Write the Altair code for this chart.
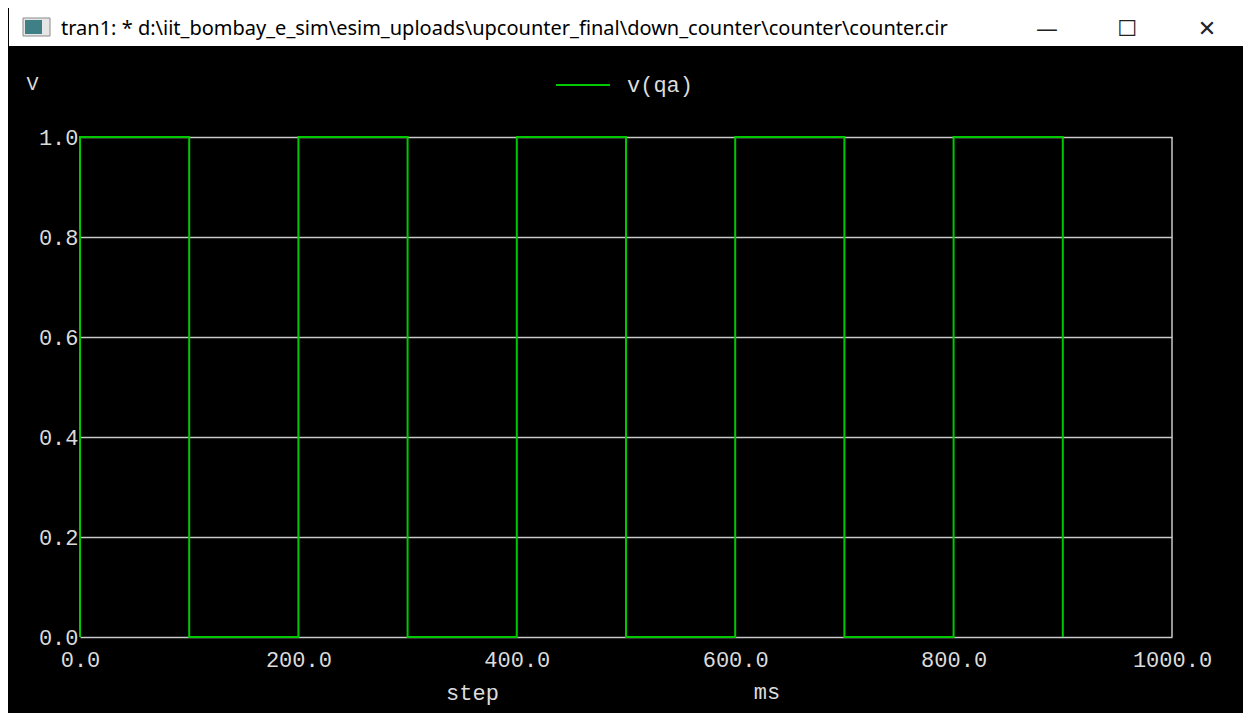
import altair as alt
import pandas as pd

# ---- data (transient of v(qa)) ----
time_ms = [0, 0, 100, 100, 200, 200, 300, 300, 400, 400, 500, 500, 600, 600, 700, 700, 800, 800, 900, 900]
v_qa = [0, 1, 1, 0, 0, 1, 1, 0, 0, 1, 1, 0, 0, 1, 1, 0, 0, 1, 1, 0]
series_name = "v(qa)"
x_ticks = [0, 200, 400, 600, 800, 1000]
y_ticks = [0.0, 0.2, 0.4, 0.6, 0.8, 1.0]
window_title = "tran1: * d:\\iit_bombay_e_sim\\esim_uploads\\upcounter_final\\down_counter\\counter\\counter.cir"
x_title = "step"
x_unit = "ms"
y_title = "V"

df = pd.DataFrame({"t": time_ms, "v": v_qa, "idx": list(range(len(time_ms))),
                   "signal": [series_name] * len(time_ms)})
one = pd.DataFrame({"a": [0]})

MONO = "Liberation Mono"
TXT = "#dcdcdc"
GRID = "#c8c8c8"
GREEN = "#00c800"

line = alt.Chart(df).mark_line(strokeWidth=2).encode(
    x=alt.X("t:Q", scale=alt.Scale(domain=[0, 1000], nice=False),
            axis=alt.Axis(values=x_ticks, format=".1f", grid=False, ticks=False, domain=False,
                          labelFont=MONO, labelFontSize=22, labelColor=TXT, labelPadding=12,
                          labelFlush=False, labelOverlap=False,
                          title=x_title, titleFont=MONO, titleFontSize=22, titleColor=TXT,
                          titleFontWeight="normal", titleX=392, titleY=55,
                          titleAlign="center", titleBaseline="middle")),
    y=alt.Y("v:Q", scale=alt.Scale(domain=[0, 1], nice=False),
            axis=alt.Axis(values=y_ticks, format=".1f", grid=True, gridColor=GRID, gridWidth=1.5,
                          gridOpacity=1, ticks=False, domain=False,
                          labelFont=MONO, labelFontSize=22, labelColor=TXT, labelPadding=2,
                          labelBaseline="middle",
                          title=y_title, titleFont=MONO, titleFontSize=20, titleColor=TXT,
                          titleFontWeight="normal", titleAngle=0, titleX=-48, titleY=-54,
                          titleAlign="center", titleBaseline="middle")),
    order=alt.Order("idx:Q"),
    color=alt.Color("signal:N", scale=alt.Scale(range=[GREEN]),
                    legend=alt.Legend(orient="none", legendX=475, legendY=-80, title=None,
                                      symbolType="stroke", symbolSize=2916, symbolStrokeWidth=2,
                                      labelFont=MONO, labelFontSize=22, labelColor=TXT,
                                      labelOffset=16, padding=0)),
)

border = alt.Chart(one).mark_rule(color=GRID, strokeWidth=1.5).encode(
    x=alt.datum(1000), y=alt.datum(0), y2=alt.datum(1)
)

unit = alt.Chart(one).mark_text(font=MONO, fontSize=22, color=TXT, align="center",
                                baseline="middle").encode(
    x=alt.value(687), y=alt.value(555), text=alt.value(x_unit)
)

# window title bar
bar = alt.Chart(one).mark_rect(color="white").encode(
    x=alt.value(-71), x2=alt.value(1163), y=alt.value(-129), y2=alt.value(-91)
)
icon_outer = alt.Chart(one).mark_rect(fill="#e6e6e6", stroke="#8a8a8a", strokeWidth=1).encode(
    x=alt.value(-57), x2=alt.value(-30), y=alt.value(-119), y2=alt.value(-101)
)
icon_inner = alt.Chart(one).mark_rect(fill="#3f7f86").encode(
    x=alt.value(-55), x2=alt.value(-38), y=alt.value(-117), y2=alt.value(-103)
)
title_txt = alt.Chart(one).mark_text(font="Noto Sans", fontSize=20, color="black",
                                     align="left", baseline="middle").encode(
    x=alt.value(-19), y=alt.value(-108), text=alt.value(window_title)
)
btns = alt.Chart(pd.DataFrame({"s": ["\u2014", "\u2610", "\u2715"],
                               "px": [967, 1047, 1127]})).mark_text(
    font="DejaVu Sans", fontSize=22, color="#222222", align="center", baseline="middle"
).encode(x=alt.X("px:Q", scale=None), y=alt.value(-108), text="s:N")

chart = alt.layer(line, border, unit, bar, icon_outer, icon_inner, title_txt, btns).properties(
    width=1092, height=500,
    padding={"left": 72, "top": 129, "right": 71, "bottom": 76},
    autosize=alt.AutoSizeParams(type="none"),
    background="black",
).configure_view(stroke=None)

chart.save("out.html", embed_options={"renderer": "svg", "actions": False})
